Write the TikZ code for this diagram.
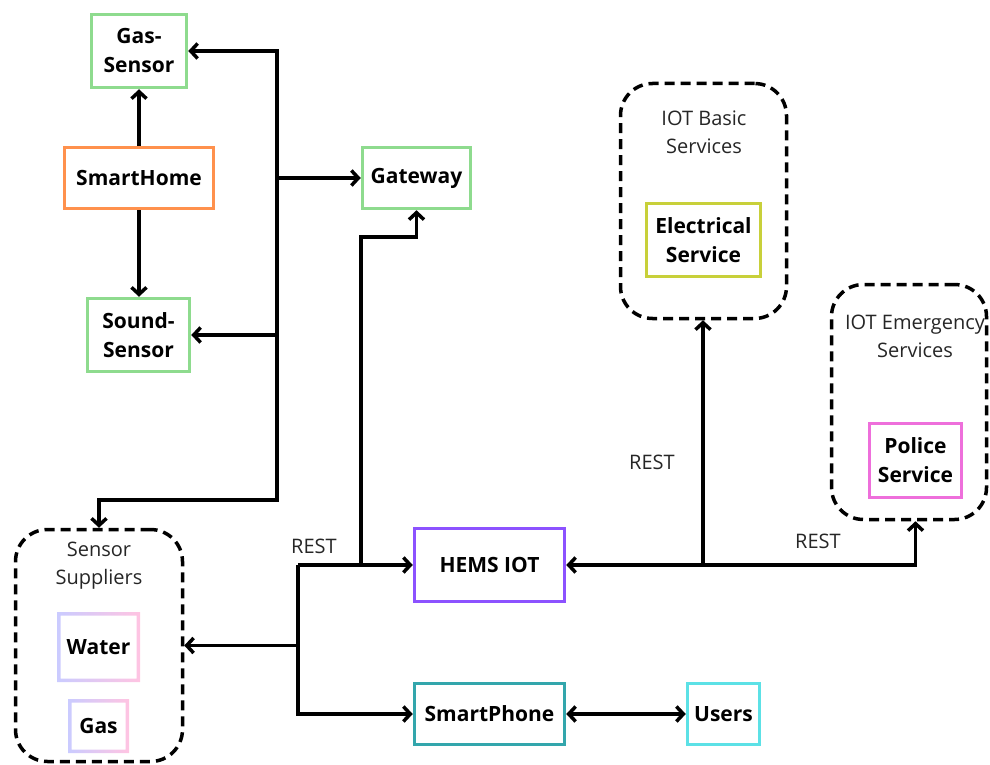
\documentclass[tikz,border=0pt]{standalone}
\usepackage{fontspec}
\setmainfont{Open Sans}
\usetikzlibrary{arrows.meta}
\definecolor{sensorgreen}{HTML}{8EDB8E}
\definecolor{homeorange}{HTML}{FF914D}
\definecolor{hemspurple}{HTML}{8C52FF}
\definecolor{phoneteal}{HTML}{33A6AC}
\definecolor{userscyan}{HTML}{5CE1E6}
\definecolor{elecyellow}{HTML}{C8D03A}
\definecolor{policepink}{HTML}{EE6FDB}
\definecolor{lavender}{HTML}{CACBFF}
\definecolor{blush}{HTML}{FFC4E2}
\definecolor{darktext}{HTML}{262626}

\begin{document}
\begin{tikzpicture}[x=1pt, y=-1pt,
    box/.style={draw, line width=3.5pt, inner sep=0pt, align=center,
        font=\bfseries\fontsize{21}{29}\selectfont},
    group/.style={draw, dash pattern=on 10pt off 6pt, line width=3.5pt,
        rounded corners=32pt, inner sep=0pt},
    tag/.style={font=\fontsize{20}{28}\selectfont, text=darktext, align=center},
    link/.style={line width=3.5pt, -{Straight Barb[length=7pt,width=15pt]}}
    ]
    \useasboundingbox (0,0) rectangle (990,765);

    % dashed groups
    \node[group, minimum width=167, minimum height=232] (suppliers) at (99,645.5) {};
    \node[group, minimum width=166, minimum height=235] (basic) at (703.5,201) {};
    \node[group, minimum width=155, minimum height=235] (emergency) at (909,402) {};
    \node[tag] (supplierstag) at (99,566) {Sensor\\Suppliers};
    \node[tag] (basictag) at (704,132) {IOT Basic\\Services};
    \node[tag] (emergencytag) at (915,336) {IOT Emergency\\Services};

    % boxes
    \node[box, draw=sensorgreen, minimum width=95, minimum height=73] (gassensor) at (139,51) {Gas-\\Sensor};
    \node[box, draw=homeorange, minimum width=149, minimum height=61] (smarthome) at (139,178) {SmartHome};
    \node[box, draw=sensorgreen, minimum width=102, minimum height=73] (soundsensor) at (138.5,335) {Sound-\\Sensor};
    \node[box, draw=sensorgreen, minimum width=108, minimum height=61] (gateway) at (416.5,178) {Gateway};
    \node[box, draw=hemspurple, minimum width=150, minimum height=73] (hems) at (489.5,565) {HEMS IOT};
    \node[box, draw=phoneteal, minimum width=150, minimum height=61] (phone) at (489.5,714) {SmartPhone};
    \node[box, draw=userscyan, minimum width=72, minimum height=61] (users) at (723.5,714) {Users};
    \node[box, draw=elecyellow, minimum width=114, minimum height=73] (electrical) at (703.5,240) {Electrical\\Service};
    \node[box, draw=policepink, minimum width=92, minimum height=74] (police) at (915.5,460.5) {Police\\Service};
    \node[box, draw=none, minimum width=76, minimum height=63] (water) at (98.5,647) {Water};
    \node[box, draw=none, minimum width=54, minimum height=47] (gas) at (98.5,726) {Gas};

    % shaded frames
    \shade[left color=lavender, right color=blush, even odd rule]
        ([shift={(-1.75pt,-1.75pt)}]water.south west) rectangle ([shift={(1.75pt,1.75pt)}]water.north east)
        ([shift={(1.75pt,1.75pt)}]water.south west) rectangle ([shift={(-1.75pt,-1.75pt)}]water.north east);
    \shade[left color=lavender, right color=blush, even odd rule]
        ([shift={(-1.75pt,-1.75pt)}]gas.south west) rectangle ([shift={(1.75pt,1.75pt)}]gas.north east)
        ([shift={(1.75pt,1.75pt)}]gas.south west) rectangle ([shift={(-1.75pt,-1.75pt)}]gas.north east);

    % home side
    \coordinate (hub) at (277,178);
    \coordinate (drop) at (277,500);
    \draw[link] (smarthome) -- (gassensor);
    \draw[link] (smarthome.south) -- (smarthome.south |- soundsensor.north);
    \draw[link] (hub) |- (gassensor.east);
    \draw[link] (hub) -- (gateway.west);
    \draw[link] (hub) |- (soundsensor.east);
    \draw[link] (hub) -- (drop) -| (suppliers.north);

    % hems side
    \coordinate (split) at (298,565);
    \coordinate (tap) at (361,565);
    \coordinate (bend) at (361,237);
    \draw[link] (split) -- (hems.west);
    \draw[link] (split) |- (phone.west);
    \draw[link] (split |- suppliers.east) -- (suppliers.east);
    \draw[link] (tap) -- (bend) -| (gateway.south);
    \node[tag] (resthems) at (314,546) {REST};

    \coordinate (fork) at (703,565);
    \draw[link] (fork) -- (hems.east);
    \draw[link] (fork) -- (fork |- basic.south);
    \draw[link] (fork) -| (police.south |- emergency.south);
    \node[tag] (restbasic) at (652,462) {REST};
    \node[tag] (restemergency) at (818,541) {REST};

    \draw[link, {Straight Barb[length=7pt,width=15pt]}-{Straight Barb[length=7pt,width=15pt]}] (phone) -- (users);
\end{tikzpicture}
\end{document}
